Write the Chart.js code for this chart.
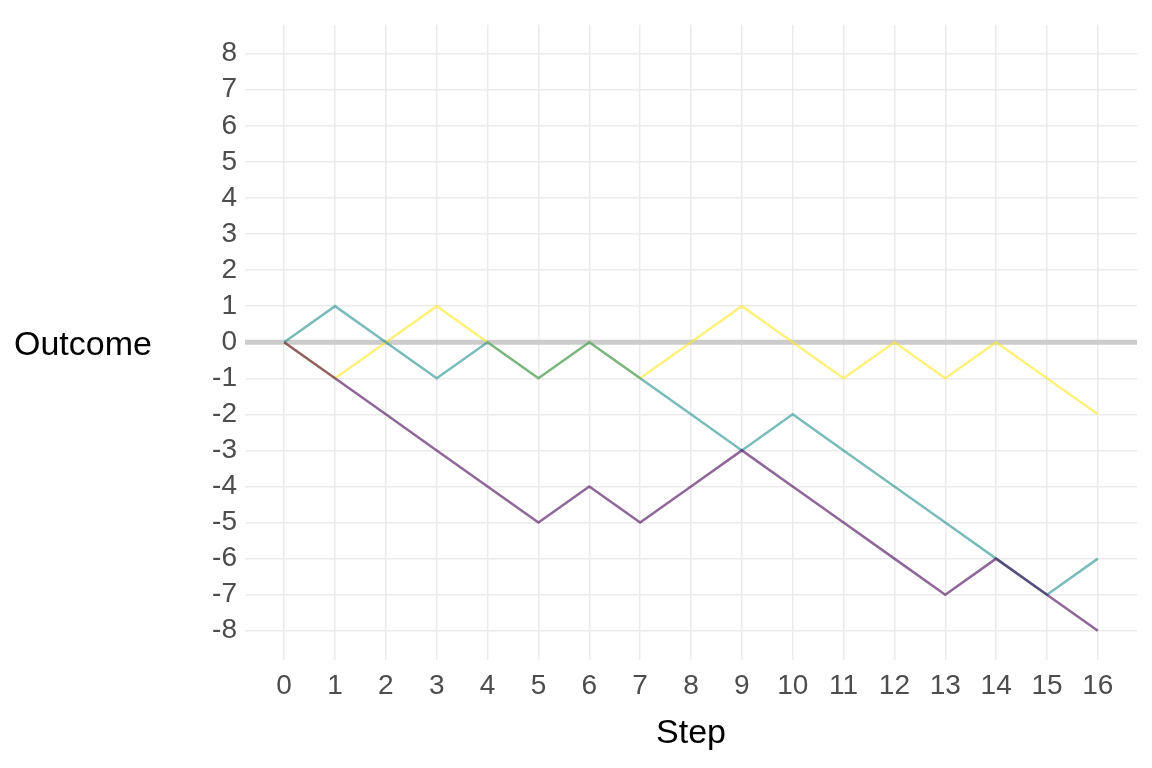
<!DOCTYPE html>
<html><head><meta charset="utf-8">
<script src="https://cdn.jsdelivr.net/npm/chart.js@4"></script>
<style>html,body{margin:0;background:#fff}</style>
</head><body><canvas id="c" width="1152" height="768"></canvas>
<script>
const steps = [0,1,2,3,4,5,6,7,8,9,10,11,12,13,14,15,16];
const walkPurple = [0,-1,-2,-3,-4,-5,-4,-5,-4,-3,-4,-5,-6,-7,-6,-7,-8];
const walkTeal = [0,1,0,-1,0,-1,0,-1,-2,-3,-2,-3,-4,-5,-6,-7,-6];
const walkYellow = [0,-1,0,1,0,-1,0,-1,0,1,0,-1,0,-1,0,-1,-2];
const colors = ['rgba(68,1,84,0.6)','rgba(33,144,140,0.6)','rgba(253,231,37,0.6)'];

const pts = arr => arr.map((v,i)=>({x:steps[i],y:v}));
const yTitle = {
  id:'yTitle',
  afterDraw(chart){
    const c=chart.ctx, y=chart.scales.y;
    c.save(); c.font='34px "Liberation Sans", Arial'; c.fillStyle='#000';
    c.textBaseline='middle'; c.textAlign='left';
    c.fillText('Outcome',14,y.getPixelForValue(0)+3); c.restore();
  }
};
const zeroLine = {
  id:'zeroLine',
  beforeDatasetsDraw(chart){
    const c=chart.ctx, a=chart.chartArea, yy=chart.scales.y.getPixelForValue(0);
    c.save(); c.strokeStyle='#cccccc'; c.lineWidth=5;
    c.beginPath(); c.moveTo(a.left,yy); c.lineTo(a.right,yy); c.stroke(); c.restore();
  }
};
const tickFont = {family:'"Liberation Sans", Arial', size:28};
new Chart(document.getElementById('c'), {
  type:'line',
  data:{datasets:[walkPurple,walkTeal,walkYellow].map((w,i)=>({
    data:pts(w), borderColor:colors[i], borderWidth:2.5, pointRadius:0, tension:0
  }))},
  options:{
    responsive:false, animation:false, devicePixelRatio:1,
    layout:{padding:{left:195,top:15,right:15,bottom:10}},
    plugins:{legend:{display:false},tooltip:{enabled:false}},
    scales:{
      x:{type:'linear',min:-0.77,max:16.77,
        afterBuildTicks(s){s.ticks=steps.map(v=>({value:v}));},
        grid:{color:'#ebebeb',lineWidth:1.5,drawTicks:false},border:{display:false},
        ticks:{font:tickFont,color:'#4d4d4d',padding:10,maxRotation:0,autoSkip:false},
        title:{display:true,text:'Step',font:{family:'"Liberation Sans", Arial',size:34},color:'#000',padding:{top:0}}},
      y:{type:'linear',min:-8.8,max:8.8,
        afterBuildTicks(s){s.ticks=[];for(let v=-8;v<=8;v++)s.ticks.push({value:v});},
        afterFit(s){s.width=50;},
        grid:{color:'#ebebeb',lineWidth:1.5,drawTicks:false},border:{display:false},
        ticks:{font:tickFont,color:'#4d4d4d',padding:8,autoSkip:false}}
    }
  },
  plugins:[zeroLine,yTitle]
});
</script></body></html>
